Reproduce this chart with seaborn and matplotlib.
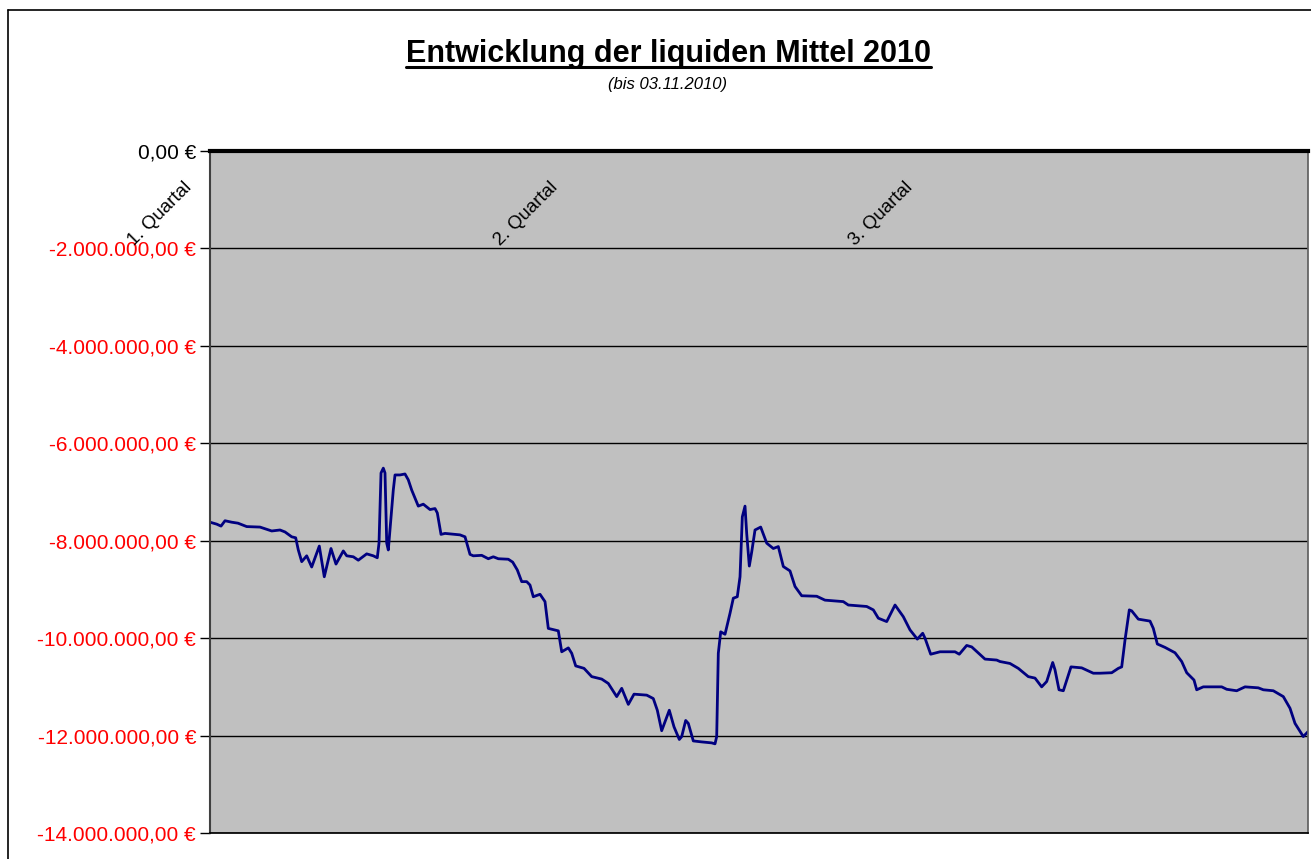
import numpy as np
import pandas as pd
import matplotlib
matplotlib.use('Agg')
import matplotlib.pyplot as plt
import seaborn as sns
from matplotlib.lines import Line2D
from matplotlib.ticker import FuncFormatter

sns.set_theme(style='white')
plt.rcParams['font.family'] = ['Liberation Sans', 'DejaVu Sans']
plt.rcParams['text.color'] = 'black'

# Tag seit 01.01.2010 und Kontostand in Mio. EUR
tage = [0.0, 1.87, 3.07, 4.18, 6.05, 7.80, 10.23, 13.93, 17.20, 19.51, 20.90, 22.77,
        23.88, 24.61, 25.56, 26.95, 28.34, 30.46, 31.85, 33.72, 35.11, 37.15, 38.10,
        39.94, 41.33, 43.67, 45.51, 46.62, 47.10, 47.66, 48.30, 48.77, 49.25, 49.69,
        50.16, 51.08, 51.56, 52.95, 54.34, 55.26, 56.21, 58.05, 59.44, 61.31, 62.71,
        63.35, 64.38, 65.49, 69.67, 71.07, 72.46, 73.38, 75.72, 77.56, 78.96, 80.35,
        83.13, 84.36, 85.64, 86.87, 88.26, 89.18, 90.10, 91.97, 93.36, 94.28, 97.07,
        98.02, 99.86, 100.80, 101.92, 104.23, 106.38, 109.16, 111.00, 113.34, 114.74,
        116.58, 118.17, 121.71, 123.54, 124.66, 125.88, 128.00, 129.31, 130.79, 131.46,
        132.57, 133.30, 134.69, 137.03, 139.82, 140.74, 141.21, 141.66, 142.33, 143.53,
        144.92, 145.84, 146.95, 147.71, 148.35, 149.10, 149.57, 150.30, 150.97, 151.89,
        153.47, 155.15, 156.99, 158.38, 159.78, 161.64, 163.04, 164.90, 169.08, 171.39,
        176.49, 177.89, 183.02, 184.86, 186.25, 188.59, 190.91, 193.22, 195.08, 197.12,
        198.62, 199.26, 200.85, 203.45, 207.62, 208.82, 210.88, 212.28, 215.98, 219.24,
        220.16, 222.95, 225.26, 228.05, 229.92, 231.78, 233.18, 234.85, 235.49, 236.61,
        237.81, 239.95, 242.93, 246.17, 248.04, 251.30, 253.14, 254.08, 255.00, 256.20,
        256.87, 258.71, 261.97, 262.89, 264.01, 266.15, 268.94, 270.80, 272.20, 274.23,
        274.98, 276.82, 281.95, 283.35, 286.13, 288.45, 292.15, 293.55, 296.33, 299.12,
        300.99, 302.38, 304.69, 306.0]
mittel_mio = [-7.62, -7.66, -7.70, -7.59, -7.62, -7.64, -7.71, -7.72, -7.80, -7.78, -7.82,
              -7.92, -7.94, -8.19, -8.43, -8.31, -8.54, -8.11, -8.74, -8.16, -8.48, -8.21,
              -8.31, -8.33, -8.40, -8.27, -8.31, -8.35, -8.05, -6.61, -6.51, -6.61, -8.05,
              -8.19, -7.78, -6.96, -6.65, -6.65, -6.63, -6.75, -6.96, -7.29, -7.25, -7.36,
              -7.34, -7.43, -7.87, -7.85, -7.88, -7.92, -8.28, -8.31, -8.30, -8.37, -8.33,
              -8.37, -8.38, -8.44, -8.60, -8.84, -8.84, -8.91, -9.15, -9.10, -9.25, -9.80,
              -9.85, -10.28, -10.20, -10.31, -10.57, -10.62, -10.79, -10.84, -10.93, -11.20,
              -11.03, -11.36, -11.15, -11.17, -11.24, -11.48, -11.90, -11.48, -11.82, -12.08,
              -12.02, -11.69, -11.75, -12.11, -12.13, -12.15, -12.17, -12.02, -10.31, -9.87,
              -9.92, -9.49, -9.18, -9.15, -8.74, -7.51, -7.29, -7.85, -8.52, -8.23, -7.78,
              -7.72, -8.05, -8.16, -8.12, -8.53, -8.62, -8.94, -9.13, -9.14, -9.22, -9.25,
              -9.32, -9.35, -9.42, -9.59, -9.66, -9.32, -9.56, -9.83, -10.02, -9.90, -10.00,
              -10.33, -10.28, -10.28, -10.33, -10.15, -10.18, -10.43, -10.45, -10.48, -10.52,
              -10.62, -10.79, -10.82, -11.00, -10.89, -10.50, -10.65, -11.06, -11.08, -10.59,
              -10.61, -10.72, -10.72, -10.71, -10.62, -10.59, -10.04, -9.42, -9.44, -9.61,
              -9.65, -9.80, -10.12, -10.19, -10.30, -10.48, -10.71, -10.86, -11.06, -11.00,
              -11.00, -11.05, -11.08, -11.00, -11.02, -11.06, -11.08, -11.20, -11.44, -11.75,
              -12.02, -11.92]

quartale = ['1. Quartal', '2. Quartal', '3. Quartal']
quartal_tag = [-14, 88, 187]
y_ticks = [0, -2e6, -4e6, -6e6, -8e6, -10e6, -12e6, -14e6]

df = pd.DataFrame({'tag': tage, 'mittel': np.array(mittel_mio) * 1e6})


def euro(v, pos=None):
    s = f"{v:,.2f}".replace(',', 'X').replace('.', ',').replace('X', '.')
    if s.startswith('-0,00'):
        s = '0,00'
    return s + ' €'


fig = plt.figure(figsize=(13.11, 8.59), dpi=100)
ax = fig.add_axes([210 / 1311, 1 - 833 / 859, 1098 / 1311, 682 / 859])
ax.set_facecolor('#C0C0C0')

sns.lineplot(data=df, x='tag', y='mittel', ax=ax, color='#000080', linewidth=2.0)

ax.set_xlim(0, 306)
ax.set_ylim(-14e6, 0)
ax.set_xticks([])
ax.set_yticks(y_ticks)
ax.yaxis.set_major_formatter(FuncFormatter(euro))
ax.set_xlabel('')
ax.set_ylabel('')
ax.grid(axis='y', color='black', linewidth=1.0)
ax.tick_params(axis='y', left=True, length=7, width=1, color='black',
               direction='out', labelsize=15, pad=3)
for lbl, v in zip(ax.get_yticklabels(), y_ticks):
    lbl.set_color('red' if v < 0 else 'black')

ax.spines['top'].set_linewidth(3)
ax.spines['top'].set_color('black')
ax.spines['left'].set_color('#404040')
ax.spines['left'].set_linewidth(1.5)
ax.spines['bottom'].set_color('black')
ax.spines['right'].set_color('#606060')

for name, t in zip(quartale, quartal_tag):
    ax.text(t, -1.3e6, name, rotation=45, ha='center', va='center',
            fontsize=13.5, color='black', clip_on=False)

# Rahmen des Diagrammbereichs
fig.add_artist(Line2D([8 / 1311, 8 / 1311], [0, 1 - 10 / 859], color='black',
                      linewidth=1.2, transform=fig.transFigure))
fig.add_artist(Line2D([8 / 1311, 1], [1 - 10 / 859, 1 - 10 / 859], color='black',
                      linewidth=1.2, transform=fig.transFigure))

titel = fig.text(668 / 1311, 1 - 54 / 859, 'Entwicklung der liquiden Mittel 2010',
                 fontsize=22, fontweight='bold', ha='center', va='center', color='black')
fig.text(668 / 1311, 1 - 84 / 859, '(bis 03.11.2010)', fontsize=12,
         style='italic', ha='center', va='center', color='black')

fig.canvas.draw()
bb = titel.get_window_extent().transformed(fig.transFigure.inverted())
fig.add_artist(Line2D([bb.x0, bb.x1], [bb.y0 + 0.002, bb.y0 + 0.002], color='black',
                      linewidth=2.2, transform=fig.transFigure))

fig.savefig('out.png', dpi=100)
